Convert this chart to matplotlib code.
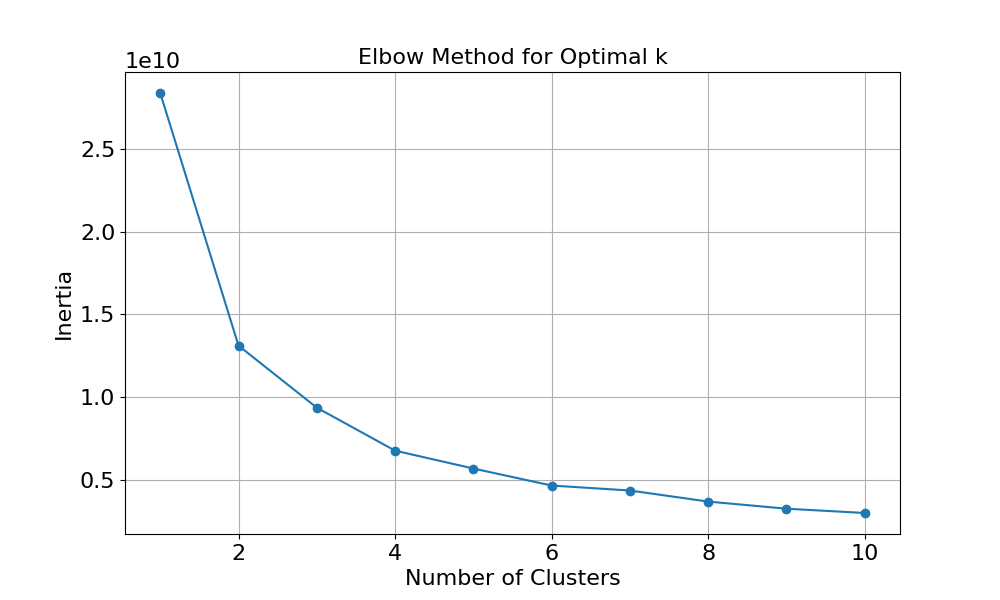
import matplotlib
matplotlib.use('Agg')
import matplotlib.pyplot as plt

# elbow curve values
k_values = [1, 2, 3, 4, 5, 6, 7, 8, 9, 10]
inertia = [2.839e10, 1.311e10, 0.936e10, 0.676e10, 0.568e10,
           0.465e10, 0.435e10, 0.368e10, 0.325e10, 0.299e10]

plt.rcParams['font.size'] = 16

fig, ax = plt.subplots(figsize=(10, 6))
ax.plot(k_values, inertia, marker='o')
ax.set_title('Elbow Method for Optimal k', fontsize=16)
ax.set_xlabel('Number of Clusters')
ax.set_ylabel('Inertia')
ax.grid(True)

plt.savefig('out.png', dpi=100)
plt.close()
